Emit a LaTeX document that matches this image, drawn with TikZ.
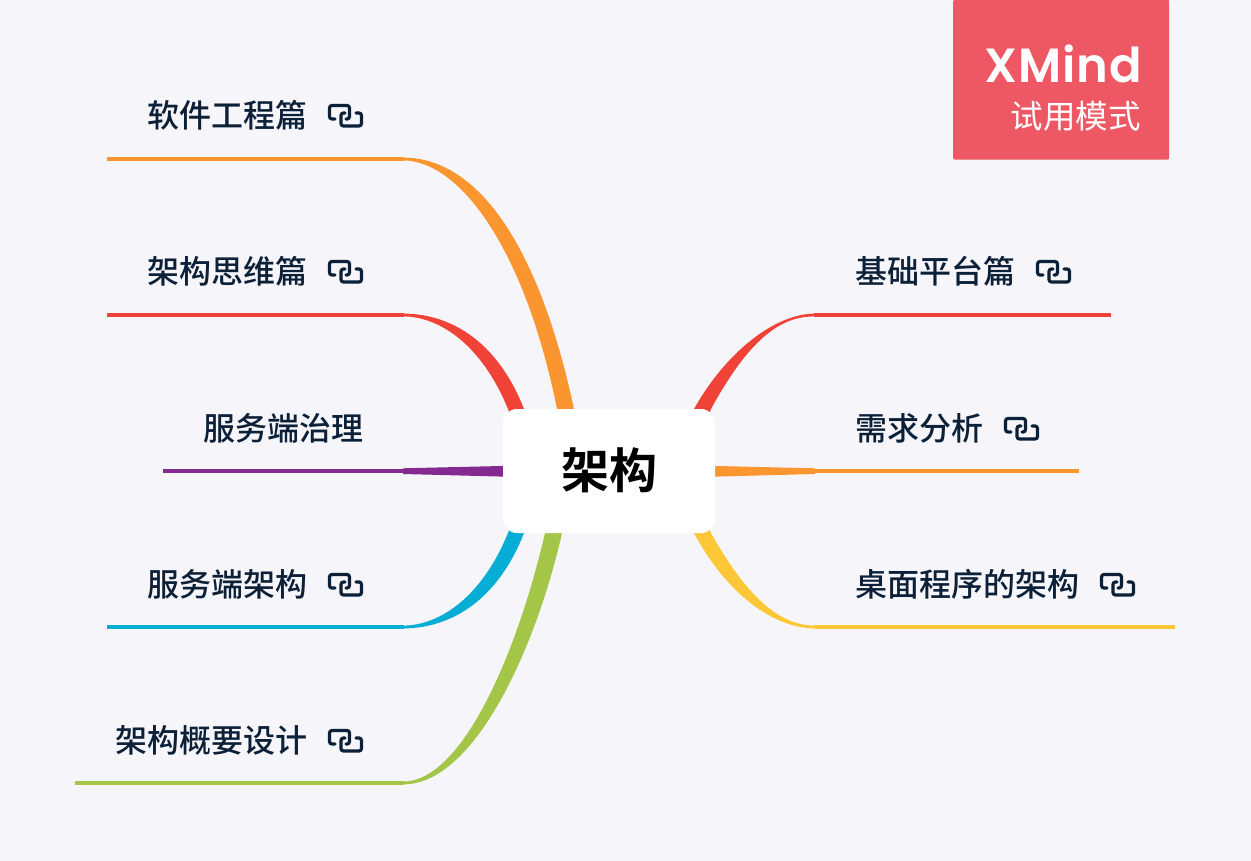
\documentclass[tikz,border=0pt]{standalone}
\usepackage{fontspec}
\setmainfont{Lato}
\newfontfamily\cjk{Noto Sans CJK SC}
\newfontfamily\cjkmed{Noto Sans CJK SC Medium}
\newfontfamily\cjkbold{Noto Sans CJK SC Bold}
\newfontfamily\xmfont[LetterSpace=2]{Poppins SemiBold}
\definecolor{bgc}{HTML}{F5F5FA}
\definecolor{badge}{HTML}{EE5864}
\definecolor{navy}{HTML}{0C2038}
\definecolor{cora}{HTML}{FA9530}
\definecolor{cred}{HTML}{F04236}
\definecolor{cpur}{HTML}{84298F}
\definecolor{cblu}{HTML}{06AED5}
\definecolor{cgrn}{HTML}{A3C548}
\definecolor{cyel}{HTML}{FDC737}
\tikzset{
  topic/.style={anchor=west,inner sep=0pt,text=navy,font=\fontsize{32}{32}\selectfont\cjkmed},
  uline/.style={line width=4pt},
  linkicon/.pic={
    \draw[navy,line width=3.2pt,rounded corners=2.5pt,line cap=round]
      (7,15) -- (1.5,15) -- (1.5,1.5) -- (21.5,1.5) -- (21.5,15) -- (18,15);
    \draw[navy,line width=3.2pt,rounded corners=2.5pt,line cap=round]
      (28,9) -- (33.5,9) -- (33.5,22) -- (13,22) -- (13,9) -- (17,9);
  }
}
\begin{document}
\begin{tikzpicture}[x=1pt,y=-1pt]
\useasboundingbox (0,0) rectangle (1251,861);
\fill[bgc] (0,0) rectangle (1251,861);

% anchor coordinates
\coordinate (o1) at (404,159); \coordinate (o1e) at (107,159);
\coordinate (r1) at (404,315); \coordinate (r1e) at (107,315);
\coordinate (p1) at (404,471); \coordinate (p1e) at (163,471);
\coordinate (b1) at (404,627); \coordinate (b1e) at (107,627);
\coordinate (g1) at (404,783); \coordinate (g1e) at (75,783);
\coordinate (r2) at (814,315); \coordinate (r2e) at (1111,315);
\coordinate (o2) at (814,471); \coordinate (o2e) at (1079,471);
\coordinate (y2) at (814,627); \coordinate (y2e) at (1175,627);

% tapered branches
\fill[cora] (403,157.6) .. controls (480,157.6) and (540,250) .. (574,409) -- (575,414) -- (558,414) -- (557,409)
  .. controls (524,245) and (458,160.4) .. (403,160.4) -- cycle;
\fill[cred] (403,313.6) .. controls (454,313.6) and (499,345) .. (524,409) -- (527,414) -- (510,414) -- (508,409)
  .. controls (481,343) and (438,316.4) .. (403,316.4) -- cycle;
\fill[cpur] (403,468.3) -- (510,465.8) -- (510,476.8) -- (403,474) -- cycle;
\fill[cblu] (403,625.6) .. controls (438,625.6) and (481,599) .. (508,533) -- (510,528) -- (527,528) -- (524,533)
  .. controls (499,597) and (454,628.4) .. (403,628.4) -- cycle;
\fill[cgrn] (403,781.6) .. controls (463,781.6) and (518,650) .. (545,533) -- (546,528) -- (563,528) -- (562,533)
  .. controls (538,640) and (477,784.4) .. (403,784.4) -- cycle;
\fill[cred] (815,313.6) .. controls (775,313.6) and (726,352) .. (694,409) -- (692,414) -- (709,414) -- (711,409)
  .. controls (755,328) and (788,316.4) .. (815,316.4) -- cycle;
\fill[cora] (815,468.3) -- (708,465.8) -- (708,476.8) -- (815,474) -- cycle;
\fill[cyel] (815,625.6) .. controls (788,625.6) and (754,610) .. (711,533) -- (709,528) -- (692,528) -- (694,533)
  .. controls (726,593) and (773,628.4) .. (815,628.4) -- cycle;

% underlines
\draw[cora,uline] (o1e) -- (o1);
\draw[cred,uline] (r1e) -- (r1);
\draw[cpur,uline] (p1e) -- (p1);
\draw[cblu,uline] (b1e) -- (b1);
\draw[cgrn,uline] (g1e) -- (g1);
\draw[cred,uline] (r2) -- (r2e);
\draw[cora,uline] (o2) -- (o2e);
\draw[cyel,uline] (y2) -- (y2e);

% central
\node[fill=white,rounded corners=14pt,minimum width=212pt,minimum height=124pt,inner sep=0pt] (c) at (609,471) {};
\node[inner sep=0pt,text=black,font=\fontsize{48}{48}\selectfont\cjkbold] (ct) at (609,470) {架构};

% topics
\node[topic] (t1) at (147,115) {软件工程篇};
\node[topic] (t2) at (147,271) {架构思维篇};
\node[topic] (t3) at (203,428) {服务端治理};
\node[topic] (t4) at (147,584) {服务端架构};
\node[topic] (t5) at (115,740) {架构概要设计};
\node[topic] (t6) at (855,271) {基础平台篇};
\node[topic] (t7) at (855,428) {需求分析};
\node[topic] (t8) at (855,584) {桌面程序的架构};

\pic at (328,104) {linkicon};
\pic at (328,260) {linkicon};
\pic at (328,573) {linkicon};
\pic at (328,729) {linkicon};
\pic at (1036,260) {linkicon};
\pic at (1004,417) {linkicon};
\pic at (1100,573) {linkicon};

% badge
\node[fill=badge,rounded corners=2pt,minimum width=216pt,minimum height=160pt,inner sep=0pt,anchor=north west] (bd) at (953,-0.5) {};
\node[anchor=base east,inner sep=0pt,text=white,font=\fontsize{48}{48}\selectfont\xmfont] (xm) at (1142,83) {XMind};
\node[anchor=east,inner sep=0pt,text=white,font=\fontsize{32.5}{33}\selectfont\cjk] (xm2) at (1141,116) {试用模式};
\end{tikzpicture}
\end{document}
